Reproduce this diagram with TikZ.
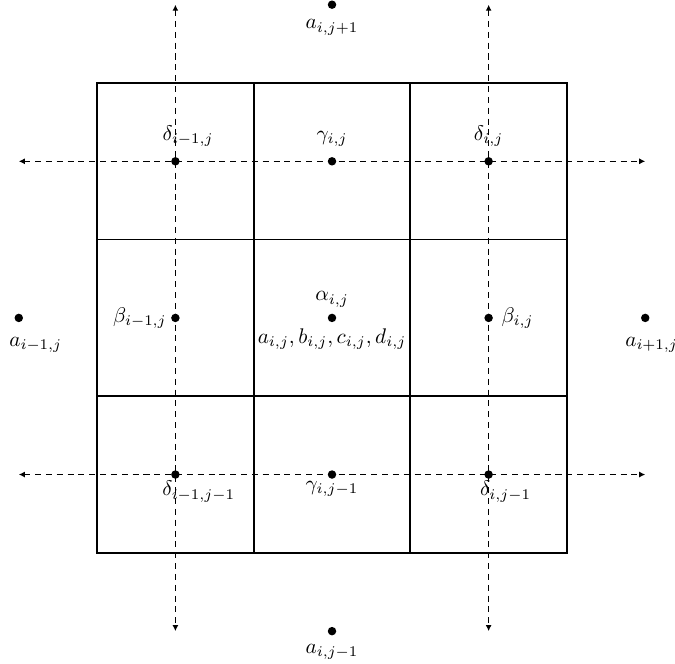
\documentclass[tikz,border=0pt]{standalone}
\usepackage{amsmath}
\usetikzlibrary{arrows.meta,positioning}

\tikzset{
  dot/.style={circle,fill,inner sep=0pt,minimum size=4pt},
  axisline/.style={dashed,dash pattern=on 1mm off 0.8mm,line width=0.7pt,
                   {Latex[length=1mm,width=1mm]}-{Latex[length=1mm,width=1mm]}}
}

\begin{document}
\begin{tikzpicture}[x=1.3cm,y=1.3cm,line width=0.8pt]
  \useasboundingbox (-4.24,-4.41) rectangle (4.38,4.06);
  % celdas
  \draw (-3,-3) rectangle (3,3);
  \foreach \t in {-1,1}{
     \draw (\t,-3) -- (\t,3);
     \draw (-3,\t) -- (3,\t);}
  % puntos interiores
  \foreach \x/\i in {-2/0,0/1,2/2} \foreach \y/\j in {-2/0,0/1,2/2}
     \node[dot] (p\i\j) at (\x,\y) {};
  % puntos exteriores
  \node[dot] (top) at (0,4) {};
  \node[dot] (bot) at (0,-4) {};
  \node[dot] (lft) at (-4,0) {};
  \node[dot] (rgt) at (4,0) {};
  % extremos de las lineas discontinuas
  \coordinate (l0) at (-2,4);  \coordinate (l1) at (-2,-4);
  \coordinate (r0) at (2,4);   \coordinate (r1) at (2,-4);
  \coordinate (u0) at (-4,2);  \coordinate (u1) at (4,2);
  \coordinate (w0) at (-4,-2); \coordinate (w1) at (4,-2);
  \draw[axisline] (l0) -- (l1);
  \draw[axisline] (r0) -- (r1);
  \draw[axisline] (u0) -- (u1);
  \draw[axisline] (w0) -- (w1);
  % etiquetas
  \node[below=1pt of top] (ltop) {$a_{i,j+1}$};
  \node[below=0pt of bot] (lbot) {$a_{i,j-1}$};
  \node[below=3pt of lft,xshift=8pt] (llft) {$a_{i-1,j}$};
  \node[below=3pt of rgt,xshift=3pt] (lrgt) {$a_{i+1,j}$};
  \node[above=1pt of p02,xshift=6pt] (d02) {$\delta_{i-1,j}$};
  \node[above=1pt of p12] (g12) {$\gamma_{i,j}$};
  \node[above=1pt of p22] (d22) {$\delta_{i,j}$};
  \node[left=-2pt of p01] (b01) {$\beta_{i-1,j}$};
  \node[right=0pt of p21] (b21) {$\beta_{i,j}$};
  \node[above=-1pt of p11] (a11) {$\alpha_{i,j}$};
  \node[below=-1pt of p11] (c11) {$a_{i,j},b_{i,j},c_{i,j},d_{i,j}$};
  \node[below=-3pt of p00,xshift=11pt] (d00) {$\delta_{i-1,j-1}$};
  \node[below=-3pt of p10] (g10) {$\gamma_{i,j-1}$};
  \node[below=-3pt of p20,xshift=8pt] (d20) {$\delta_{i,j-1}$};
\end{tikzpicture}
\end{document}
